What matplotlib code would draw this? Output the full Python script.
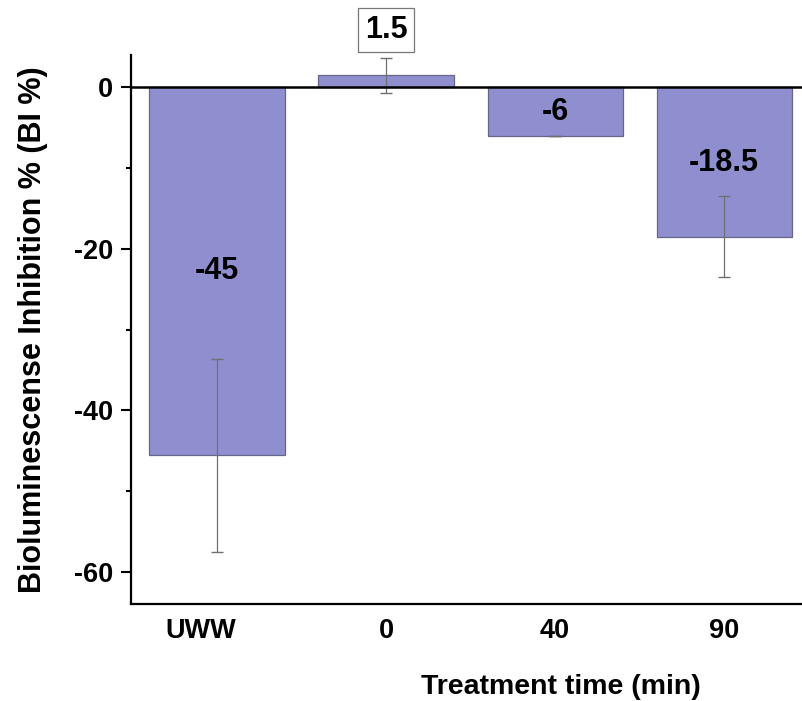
import numpy as np
import matplotlib.pyplot as plt
import matplotlib.transforms as mtransforms

plt.rcParams['font.family'] = ['Liberation Sans', 'DejaVu Sans']
plt.rcParams['font.weight'] = 'bold'
plt.rcParams['axes.unicode_minus'] = False

groups = ['UWW', '0', '40', '90']
values = [-45.6, 1.5, -6.0, -18.5]
errors = [12.0, 2.15, 0.0, 5.0]
labels = ['-45', '1.5', '-6', '-18.5']
label_y = [-22.8, 7.1, -3.0, -9.4]

fig = plt.figure(figsize=(8.02, 7.01), dpi=100)
ax = fig.add_axes([0.1633, 0.1384, 0.8367, 0.7831])

x = np.arange(len(groups))
ax.bar(x, values, width=0.8, color='#8f8fd0', edgecolor='#66668a', linewidth=0.9,
       yerr=errors, error_kw=dict(ecolor='#707070', elinewidth=0.9, capsize=4.3, capthick=1.0),
       zorder=2)
ax.axhline(0, color='black', lw=1.8, zorder=3)

for xi, yi, t in zip(x, label_y, labels):
    if t == '1.5':
        ax.text(xi, yi, t, ha='center', va='center', fontsize=22, fontweight='bold',
                clip_on=False, zorder=4,
                bbox=dict(boxstyle='square,pad=0.22', fc='white', ec='#777777', lw=0.9))
    else:
        ax.text(xi, yi, t, ha='center', va='center', fontsize=22, fontweight='bold', zorder=4)

ax.set_xlim(-0.509, 3.46)
ax.set_ylim(-64, 4)
ax.set_xticks(x)
ax.set_xticklabels(groups)
ax.set_yticks([0, -20, -40, -60])
ax.set_yticks([-10, -30, -50], minor=True)
ax.tick_params(axis='x', length=0, pad=10, labelsize=19.5)
ax.tick_params(axis='y', which='major', length=7, width=1.5, pad=6, labelsize=19.5)
ax.tick_params(axis='y', which='minor', length=3.5, width=1.5)
for s in ['top', 'right']:
    ax.spines[s].set_visible(False)
for s in ['left', 'bottom']:
    ax.spines[s].set_linewidth(1.6)

# the UWW label sits a little left of its bar in the original
lab = ax.get_xticklabels()[0]
lab.set_transform(lab.get_transform() + mtransforms.ScaledTranslation(-16 / 100, 0, fig.dpi_scale_trans))

ax.set_ylabel('Bioluminescense Inhibition % (BI %)', fontsize=22, fontweight='bold')
ax.set_xlabel('Treatment time (min)', fontsize=20.5, fontweight='bold')
ax.xaxis.set_label_coords(0.64, -0.128)
ax.yaxis.set_label_coords(-0.123, 0.5)

fig.savefig('out.png', dpi=100)
